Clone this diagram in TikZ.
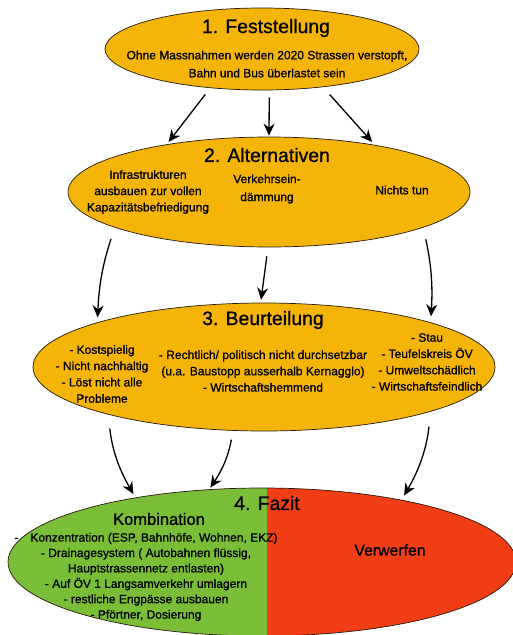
\documentclass[tikz,border=0pt]{standalone}
\usepackage{fontspec}
\setmainfont{Liberation Sans}[FakeBold=0.9]
\usetikzlibrary{arrows.meta}
\usetikzlibrary{shapes.geometric}

\definecolor{gold}{RGB}{244,180,8}
\definecolor{kombi}{RGB}{122,190,56}
\definecolor{verwerf}{RGB}{242,62,22}

\begin{document}
\begin{tikzpicture}[x=1pt,y=-1pt,
    stage/.style={ellipse,draw=black!80!brown,line width=0.7pt,fill=gold,inner sep=0pt},
    title/.style={inner sep=0pt,font=\fontsize{19.4}{22}\selectfont},
    txt/.style={align=center,inner sep=0pt,font=\fontsize{12}{16.3}\selectfont},
    pfeil/.style={-{Stealth[length=12pt,width=11pt]},line width=1.3pt}]
\useasboundingbox (0,0) rectangle (513,635);

% the four stages
\node[stage,minimum width=314pt,minimum height=82pt] (Fest) at (262,49) {};
\node[stage,minimum width=402pt,minimum height=110pt] (Alt) at (269,192) {};
\node[stage,minimum width=462pt,minimum height=128pt] (Beur) at (264,367) {};
\node[stage,fill=none,minimum width=508pt,minimum height=148pt,
      path picture={
        \fill[kombi] (path picture bounding box.south west) rectangle ([xshift=5pt]path picture bounding box.north);
        \fill[verwerf] ([xshift=5pt]path picture bounding box.south) rectangle (path picture bounding box.north east);
      }] (Fazit) at (262,562) {};

% 1. Feststellung
\node[title] (FestT) at (266,28) {1. Feststellung};
\node[txt,font=\fontsize{12}{18}\selectfont] (FestB) at (267,64) {Ohne Massnahmen werden 2020 Strassen verstopft,\\Bahn und Bus überlastet sein};

% 2. Alternativen
\node[title] (AltT) at (267,155) {2. Alternativen};
\node[txt] (Ausbau) at (148,192) {Infrastrukturen\\ausbauen zur vollen\\Kapazitätsbefriedigung};
\node[txt,font=\fontsize{12}{18}\selectfont] (Eind) at (267,189) {Verkehrsein-\\dämmung};
\node[txt] (Nichts) at (402,190) {Nichts tun};

% 3. Beurteilung
\node[title] (BeurT) at (263,320) {3. Beurteilung};
\node[txt] (BeurL) at (102,374) {- Kostspielig\\- Nicht nachhaltig\\- Löst nicht alle\\Probleme};
\node[txt] (BeurM) at (263,371) {- Rechtlich/ politisch nicht durchsetzbar\\(u.a. Baustopp ausserhalb Kernagglo)\\- Wirtschaftshemmend};
\node[txt] (BeurR) at (427,362) {- Stau\\- Teufelskreis ÖV\\- Umweltschädlich\\- Wirtschaftsfeindlich};

% 4. Fazit
\node[title] (FazitT) at (267,503) {4. Fazit};
\node[inner sep=0pt,font=\fontsize{16.5}{18}\selectfont] (Kombi) at (159,519) {Kombination};
\node[txt,font=\fontsize{12}{15.4}\selectfont] (KombiL) at (146,577) {-\quad Konzentration (ESP, Bahnhöfe, Wohnen, EKZ)\\- Drainagesystem ( Autobahnen flüssig,\\Hauptstrassennetz entlasten)\\- Auf ÖV 1 Langsamverkehr umlagern\\- restliche Engpässe ausbauen\\- Pförtner, Dosierung};
\node[inner sep=0pt,font=\fontsize{15.8}{18}\selectfont] (Verw) at (390,550) {Verwerfen};

% arrows
\draw[pfeil,shorten <=8pt,shorten >=3pt] (Fest.-143) to (Alt.155);
\draw[pfeil,shorten <=7pt,shorten >=1pt] (Fest.-80) to (Alt.90);
\draw[pfeil,shorten <=10pt,shorten >=4pt] (Fest.-32) to (Alt.24);

\draw[pfeil,shorten <=12pt,shorten >=5pt] (Alt.-167) to[bend right=8] (Beur.165);
\draw[pfeil,shorten <=9pt,shorten >=3pt] (Alt.-91) to (Beur.93);
\draw[pfeil,shorten <=12pt,shorten >=6pt] (Alt.-13) to[bend left=8] (Beur.15);

\draw[pfeil,shorten <=14pt,shorten >=4pt] (Beur.-163) to[bend right=12] (Fazit.153);
\draw[pfeil,shorten <=9pt,shorten >=2pt] (Beur.-116) to[bend left=12] (Fazit.126);
\draw[pfeil,shorten <=15pt,shorten >=5pt] (Beur.-15) to[bend left=12] (Fazit.24);
\end{tikzpicture}
\end{document}
